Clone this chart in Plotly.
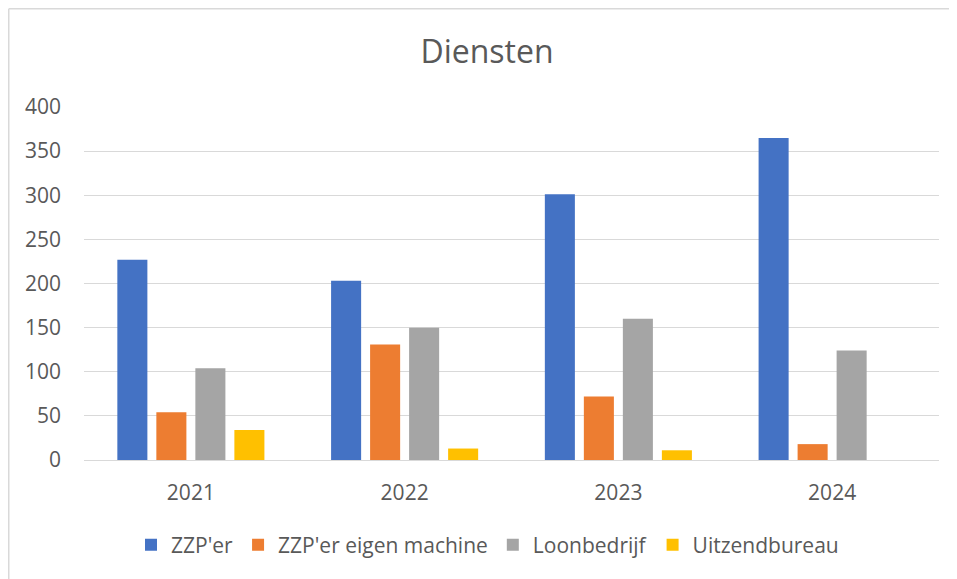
import plotly.graph_objects as go

years = ["2021", "2022", "2023", "2024"]
zzp = [227, 203, 301, 365]
zzp_eigen = [54, 131, 72, 18]
loonbedrijf = [104, 150, 160, 124]
uitzendbureau = [34, 13, 11, 0]

series = [
    ("ZZP'er", zzp, "#4472C4"),
    ("ZZP'er eigen machine", zzp_eigen, "#ED7D31"),
    ("Loonbedrijf", loonbedrijf, "#A5A5A5"),
    ("Uitzendbureau", uitzendbureau, "#FFC000"),
]

# page has an 8px body margin; work in figure coordinates = page - 8
OFF = 8
W, H = 957 - OFF, 579 - OFF
L, R, T, B = 84 - OFF, 939 - OFF, 107 - OFF, 460 - OFF

fig = go.Figure()
for name, vals, col in series:
    fig.add_trace(go.Bar(x=years, y=vals, name=name, marker=dict(color=col, line=dict(width=0))))

pw, ph = R - L, B - T
# outer chart border: only left and top edges fall inside the picture
fig.add_shape(type="line", xref="paper", yref="paper",
              x0=(0.75 - L) / pw, x1=(0.75 - L) / pw,
              y0=(B - (H + 20)) / ph, y1=(B - 0.75) / ph,
              line=dict(color="#d9d9d9", width=1.5), layer="below")
fig.add_shape(type="line", xref="paper", yref="paper",
              x0=(0.75 - L) / pw, x1=(W + 20 - L) / pw,
              y0=(B - 0.75) / ph, y1=(B - 0.75) / ph,
              line=dict(color="#d9d9d9", width=1.5), layer="below")

fig.update_layout(
    width=W, height=H,
    margin=dict(l=L, r=W - R, t=T, b=H - B, pad=0, autoexpand=False),
    paper_bgcolor="white", plot_bgcolor="white",
    font=dict(family="Open Sans", color="#595959", size=21),
    title=dict(text="Diensten", x=(487 - OFF) / W, xref="container", xanchor="center",
               y=1 - (52 - OFF) / H, yref="container", yanchor="middle",
               font=dict(size=32, color="#595959")),
    barmode="group", bargap=0.27, bargroupgap=0.23,
    showlegend=True,
    legend=dict(orientation="h", x=(479.5 - L) / pw, xanchor="center",
                y=(B - (545 - OFF)) / ph, yanchor="middle", font=dict(size=21, color="#595959"),
                itemwidth=30, traceorder="normal"),
    xaxis=dict(showgrid=False, showline=False, ticks="", ticklabelstandoff=18,
               tickfont=dict(size=21, color="#595959")),
    yaxis=dict(range=[0, 400], dtick=50, showgrid=True, gridcolor="#d9d9d9", gridwidth=1.3,
               zeroline=True, zerolinecolor="#d9d9d9", zerolinewidth=1.3,
               showline=False, ticks="", ticklabelstandoff=22,
               tickfont=dict(size=21, color="#595959")),
)

fig.write_html("out.html")
